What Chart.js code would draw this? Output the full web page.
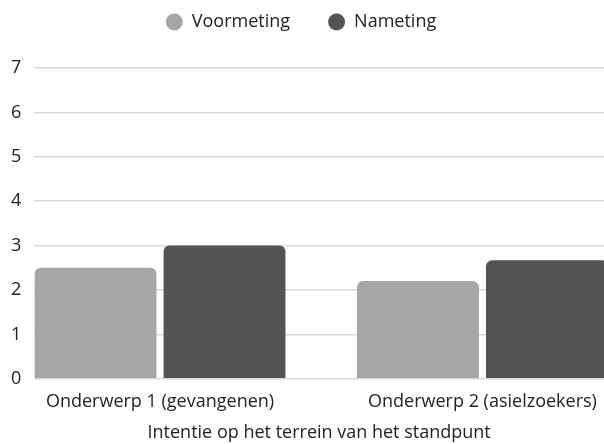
<!DOCTYPE html>
<html>
<head>
<meta charset="utf-8">
<script src="https://cdn.jsdelivr.net/npm/chart.js@4"></script>
<style>
  html, body { margin: 0; padding: 0; background: #fff; overflow: hidden; }
  #wrap { width: 604px; height: 444px; }
</style>
</head>
<body>
<div id="wrap"><canvas id="barChart"></canvas></div>
<script>
const categories = ["Onderwerp 1 (gevangenen)", "Onderwerp 2 (asielzoekers)"];
const voormeting = [2.5, 2.2];
const nameting = [3.0, 2.67];
const yTicks = [0, 1, 2, 3, 4, 5, 6, 7];
const xTitle = "Intentie op het terrein van het standpunt";

// visible x window (in category units) - first group hugs the y axis, last one runs off the edge
const xMin = -0.39;
const xMax = 1.377;

Chart.defaults.font.family = "'Open Sans', sans-serif";
Chart.defaults.font.size = 18;
Chart.defaults.color = '#222';

const ctx = document.getElementById('barChart').getContext('2d');
const barChart = new Chart(ctx, {
    type: 'bar',
    data: {
        datasets: [
            {
                label: 'Voormeting',
                data: voormeting.map((v, i) => ({ x: i, y: v })),
                backgroundColor: '#a6a6a6',
                borderRadius: 6,
                borderSkipped: 'bottom',
            },
            {
                label: 'Nameting',
                data: nameting.map((v, i) => ({ x: i, y: v })),
                backgroundColor: '#535353',
                borderRadius: 6,
                borderSkipped: 'bottom',
            },
        ],
    },
    options: {
        responsive: true,
        maintainAspectRatio: false,
        animation: false,
        categoryPercentage: 0.8,
        barPercentage: 0.945,
        layout: {
            padding: { left: -2, right: 0, top: -25, bottom: 0 },
        },
        scales: {
            x: {
                type: 'linear',
                offset: false,
                min: xMin,
                max: xMax,
                afterBuildTicks: (axis) => {
                    axis.ticks = categories.map((c, i) => ({ value: i }));
                    axis.min = xMin;
                    axis.max = xMax;
                },
                // tick marks hidden but their length still spaces the labels
                grid: { display: false, drawTicks: true, tickLength: 10 },
                border: { display: false },
                ticks: {
                    autoSkip: false,
                    maxRotation: 0,
                    padding: 2,
                    callback: (v) => categories[v] ?? '',
                },
                title: {
                    display: true,
                    text: xTitle,
                    padding: { top: 8, bottom: 0 },
                },
            },
            y: {
                min: yTicks[0],
                max: yTicks[yTicks.length - 1],
                afterBuildTicks: (axis) => {
                    axis.ticks = yTicks.map(v => ({ value: v }));
                },
                grid: {
                    color: '#d9d9d9',
                    lineWidth: 1.5,
                    drawTicks: false,
                },
                border: { display: false },
                ticks: { padding: 13 },
            },
        },
        plugins: {
            legend: {
                position: 'top',
                labels: {
                    usePointStyle: true,
                    pointStyle: 'circle',
                    boxWidth: 17,
                    boxHeight: 12,
                    padding: 38,
                },
            },
            // empty title used only as a gap between legend and plot
            title: {
                display: true,
                text: '',
                weight: 500,
                font: { size: 12, lineHeight: 1 },
                padding: { top: 15, bottom: 0 },
            },
            tooltip: { enabled: false },
        },
    },
});
</script>
</body>
</html>
